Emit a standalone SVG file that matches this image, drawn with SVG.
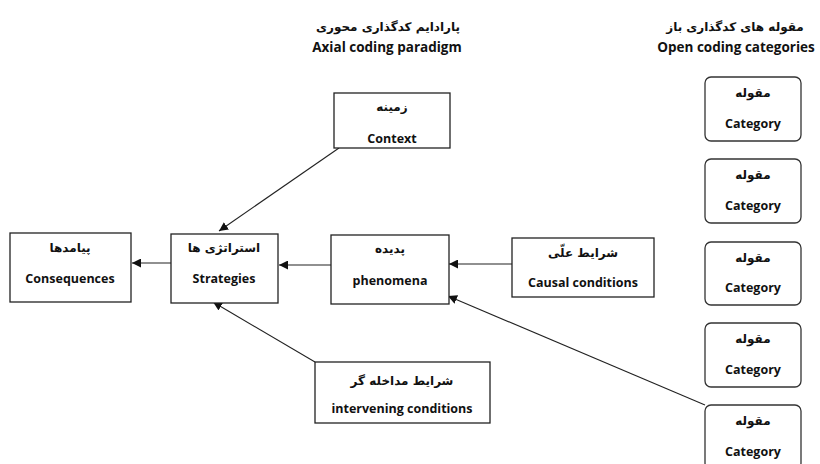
<svg xmlns="http://www.w3.org/2000/svg" width="820" height="464" viewBox="0 0 820 464">
<defs>
<marker id="arr" viewBox="0 0 10 10" refX="10" refY="5" markerWidth="9" markerHeight="9" markerUnits="userSpaceOnUse" orient="auto">
<path d="M0,0 L10,5 L0,10 Z" fill="#111"/>
</marker>
</defs>
<style>
.box{fill:#fff;stroke:#222;stroke-width:1.3}
.cat{fill:#fff;stroke:#333;stroke-width:1.3}
.en{font-family:"Open Sans","Liberation Sans",sans-serif;font-weight:bold;font-size:12.5px;fill:#111;text-anchor:middle}
.fa{font-family:"DejaVu Sans",sans-serif;font-weight:bold;font-size:12px;fill:#111;text-anchor:middle}
.hen{font-family:"Open Sans","Liberation Sans",sans-serif;font-weight:bold;font-size:13.5px;fill:#111;text-anchor:middle}
.link{stroke:#222;stroke-width:1.1;fill:none;marker-end:url(#arr)}
</style>
<rect width="820" height="464" fill="#fff"/>
<g id="headers">
<text class="fa" x="388" y="31" direction="rtl">پارادایم کدگذاری محوری</text>
<text class="hen" x="387" y="52">Axial coding paradigm</text>
<text class="fa" x="735" y="31" direction="rtl">مقوله های کدگذاری باز</text>
<text class="hen" x="736" y="52">Open coding categories</text>
</g>
<g id="connectors">
<line class="link" x1="339" y1="148" x2="219" y2="231"/>
<line class="link" x1="171" y1="263" x2="132" y2="263"/>
<line class="link" x1="331" y1="265" x2="279" y2="265"/>
<line class="link" x1="512" y1="264" x2="449" y2="264"/>
<line class="link" x1="315" y1="362" x2="213" y2="302"/>
<line class="link" x1="705" y1="405" x2="448" y2="296"/>
</g>
<g id="consequences">
<rect class="box" x="10" y="233" width="121" height="69"/>
<text class="fa" x="70" y="252" direction="rtl">پیامدها</text>
<text class="en" x="70" y="283">Consequences</text>
</g>
<g id="strategies">
<rect class="box" x="171" y="234" width="107" height="69"/>
<text class="fa" x="224" y="252" direction="rtl">استراتژی ها</text>
<text class="en" x="224" y="283">Strategies</text>
</g>
<g id="phenomena">
<rect class="box" x="331" y="235" width="118" height="69"/>
<text class="fa" x="390" y="253" direction="rtl">پدیده</text>
<text class="en" x="390" y="285">phenomena</text>
</g>
<g id="causal">
<rect class="box" x="512" y="238" width="142" height="59"/>
<text class="fa" x="583" y="257" direction="rtl">شرایط علّی</text>
<text class="en" x="583" y="287">Causal conditions</text>
</g>
<g id="context">
<rect class="box" x="334" y="93" width="116" height="55"/>
<text class="fa" x="392" y="111" direction="rtl">زمینه</text>
<text class="en" x="392" y="143">Context</text>
</g>
<g id="intervening">
<rect class="box" x="315" y="362" width="175" height="61"/>
<text class="fa" x="402" y="385" direction="rtl">شرایط مداخله گر</text>
<text class="en" x="402" y="413">intervening conditions</text>
</g>
<g id="category1">
<rect class="cat" x="705" y="77" width="96" height="64" rx="6"/>
<text class="fa" x="753" y="97" direction="rtl">مقوله</text>
<text class="en" x="753" y="128">Category</text>
</g>
<g id="category2">
<rect class="cat" x="705" y="159" width="96" height="64" rx="6"/>
<text class="fa" x="753" y="179" direction="rtl">مقوله</text>
<text class="en" x="753" y="210">Category</text>
</g>
<g id="category3">
<rect class="cat" x="705" y="242" width="96" height="63" rx="6"/>
<text class="fa" x="753" y="262" direction="rtl">مقوله</text>
<text class="en" x="753" y="292">Category</text>
</g>
<g id="category4">
<rect class="cat" x="705" y="323" width="96" height="64" rx="6"/>
<text class="fa" x="753" y="343" direction="rtl">مقوله</text>
<text class="en" x="753" y="374">Category</text>
</g>
<g id="category5">
<rect class="cat" x="705" y="405" width="96" height="64" rx="6"/>
<text class="fa" x="753" y="425" direction="rtl">مقوله</text>
<text class="en" x="753" y="456">Category</text>
</g>
</svg>
